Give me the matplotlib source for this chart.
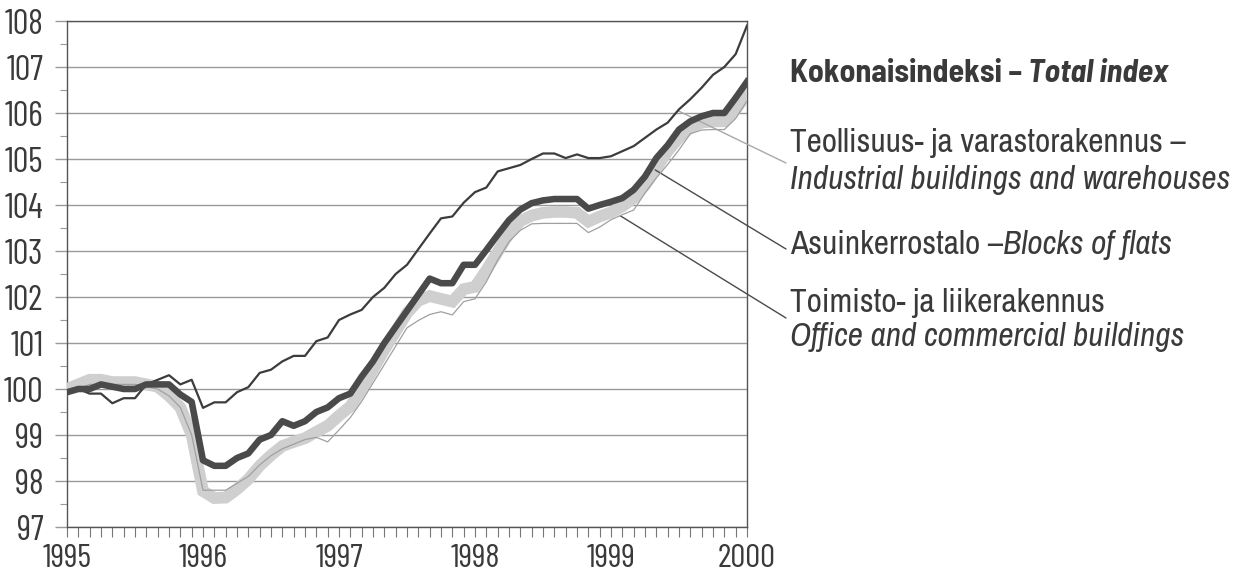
import numpy as np
import matplotlib
matplotlib.use("Agg")
import matplotlib.pyplot as plt
from matplotlib.ticker import MultipleLocator

# monthly index values, Jan 1995 .. Jan 2000 (1995 = 100)
start_year = 1995
total = [99.93, 100.0, 100.0, 100.1, 100.05, 100.0, 100.0, 100.1, 100.1, 100.1, 99.88, 99.72,
         98.45, 98.33, 98.33, 98.5, 98.6, 98.9, 99.0, 99.3, 99.2, 99.3, 99.5, 99.6,
         99.8, 99.9, 100.27, 100.6, 101.0, 101.35, 101.7, 102.05, 102.4, 102.3, 102.3, 102.7,
         102.7, 103.02, 103.35, 103.67, 103.9, 104.04, 104.1, 104.13, 104.13, 104.13, 103.92, 104.0,
         104.07, 104.15, 104.33, 104.62, 105.02, 105.3, 105.64, 105.82, 105.93, 106.0, 106.0, 106.33,
         106.68]
industrial = [99.95, 100.0, 99.9, 99.9, 99.69, 99.8, 99.8, 100.1, 100.2, 100.3, 100.1, 100.2,
              99.59, 99.71, 99.71, 99.93, 100.04, 100.35, 100.42, 100.6, 100.72, 100.72, 101.04, 101.12,
              101.5, 101.62, 101.72, 102.0, 102.2, 102.5, 102.7, 103.04, 103.38, 103.71, 103.75, 104.05,
              104.28, 104.38, 104.73, 104.8, 104.87, 105.0, 105.12, 105.12, 105.02, 105.1, 105.02, 105.02,
              105.06, 105.17, 105.28, 105.46, 105.64, 105.79, 106.08, 106.3, 106.55, 106.83, 107.0, 107.28,
              107.9]
flats = [100.0, 100.1, 100.2, 100.2, 100.15, 100.15, 100.15, 100.1, 100.05, 99.85, 99.6, 99.0,
         97.78, 97.63, 97.64, 97.82, 98.04, 98.33, 98.56, 98.76, 98.85, 98.93, 99.07, 99.2,
         99.42, 99.62, 100.0, 100.42, 100.85, 101.25, 101.65, 101.92, 102.02, 101.96, 101.9, 102.17,
         102.22, 102.58, 102.98, 103.38, 103.65, 103.77, 103.83, 103.85, 103.85, 103.83, 103.64, 103.75,
         103.84, 103.97, 104.15, 104.43, 104.8, 105.17, 105.46, 105.69, 105.79, 105.82, 105.82, 106.08,
         106.42]
office = [99.9, 100.0, 100.1, 100.1, 100.1, 100.1, 100.1, 100.05, 100.0, 99.85, 99.6, 99.0,
          97.8, 97.8, 97.8, 97.95, 98.1, 98.35, 98.55, 98.7, 98.8, 98.9, 98.95, 98.85,
          99.11, 99.38, 99.73, 100.13, 100.53, 100.93, 101.33, 101.49, 101.62, 101.68, 101.61, 101.9,
          101.96, 102.33, 102.8, 103.2, 103.45, 103.59, 103.6, 103.6, 103.6, 103.6, 103.4, 103.52,
          103.68, 103.79, 103.89, 104.26, 104.59, 104.88, 105.2, 105.55, 105.63, 105.64, 105.64, 105.88,
          106.26]

legend_title = ("Kokonaisindeksi \u2013 ", "Total index")
labels = {
    "industrial": ("Teollisuus- ja varastorakennus \u2013", "Industrial buildings and warehouses"),
    "flats": ("Asuinkerrostalo \u2013", "Blocks of flats"),
    "office": ("Toimisto- ja liikerakennus", "Office and commercial buildings"),
}

FONT = ["Archivo Narrow", "DejaVu Sans"]
TICK_FONT = ["Barlow Condensed", "DejaVu Sans"]
BOLD_FONT = ["Barlow Semi Condensed", "DejaVu Sans"]
plt.rcParams["font.family"] = FONT
TXT = "#3a3a3a"

months = np.arange(len(total))
x = start_year + months / 12.0

fig = plt.figure(figsize=(12.45, 5.76), dpi=100)
ax = fig.add_axes([67 / 1245, 49 / 576, 680 / 1245, 506 / 576])

ax.plot(x, flats, color="#cfcfcf", lw=8.5, solid_joinstyle="miter", zorder=3)
ax.plot(x, office, color="#a0a0a0", lw=0.9, zorder=4)
ax.plot(x, industrial, color="#3c3c3c", lw=1.6, zorder=5)
ax.plot(x, total, color="#4a4a4a", lw=4.7, zorder=6)

ax.set_xlim(1995, 2000)
ax.set_ylim(97, 108)
ax.xaxis.set_major_locator(MultipleLocator(1))
ax.xaxis.set_minor_locator(MultipleLocator(1 / 12))
ax.yaxis.set_major_locator(MultipleLocator(1))
ax.yaxis.set_minor_locator(MultipleLocator(0.5))
ax.xaxis.set_major_formatter(plt.FuncFormatter(lambda v, p: f"{int(round(v))}"))
ax.grid(axis="y", which="major", color="#9a9a9a", lw=1.0, zorder=1)

ax.tick_params(axis="x", which="both", direction="out", length=7, width=0.8, color="#777777")
ax.tick_params(axis="x", which="major", labelsize=24, pad=5, labelcolor=TXT)
ax.tick_params(axis="y", which="major", direction="out", length=9, width=1.0, color="#9a9a9a",
               labelsize=25, pad=8, labelcolor=TXT)
ax.tick_params(axis="y", which="minor", direction="out", length=5, width=0.8, color="#9a9a9a")
for lab in ax.get_xticklabels() + ax.get_yticklabels():
    lab.set_family(TICK_FONT)
for s in ax.spines.values():
    s.set_color("#555555")
    s.set_linewidth(1.0)

# legend text on the right
fig.canvas.draw()
r = fig.canvas.get_renderer()
inv = fig.transFigure.inverted()
lx = 790 / 1245
fs = 24

def put(y_px, parts, size=fs):
    xx = lx
    for txt, kw in parts:
        t = fig.text(xx, 1 - y_px / 576, txt, fontsize=size, color=TXT, va="center", ha="left", **kw)
        bb = t.get_window_extent(renderer=r)
        xx = inv.transform((bb.x1, bb.y0))[0]

put(73, [(legend_title[0], dict(weight="bold", family=BOLD_FONT)),
         (legend_title[1], dict(weight="bold", style="italic", family=BOLD_FONT))], size=23)
put(143, [(labels["industrial"][0], {})])
put(180, [(labels["industrial"][1], dict(style="italic"))])
put(245, [(labels["flats"][0], {}), (labels["flats"][1], dict(style="italic"))])
put(303, [(labels["office"][0], {})])
put(337, [(labels["office"][1], dict(style="italic"))])

# leader lines from the series to the labels
leaders = [(53.9, industrial, "#a8a8a8", 163), (51.9, flats, "#4a4a4a", 249), (48.8, office, "#4a4a4a", 318)]
for mi, series, col, ypx in leaders:
    yv = np.interp(mi, months, series)
    ax.annotate("", xy=(start_year + mi / 12.0, yv), xycoords="data",
                xytext=(786 / 1245, 1 - ypx / 576), textcoords="figure fraction",
                arrowprops=dict(arrowstyle="-", color=col, lw=1.0, shrinkA=0, shrinkB=0),
                annotation_clip=False)

fig.savefig("out.png", dpi=100)
